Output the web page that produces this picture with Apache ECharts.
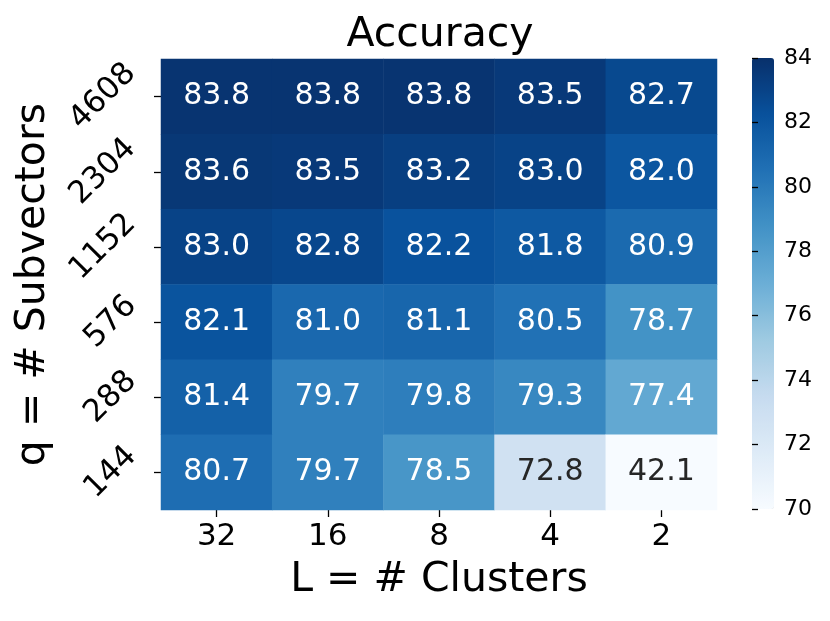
<!DOCTYPE html>
<html>
<head>
<meta charset="utf-8">
<script src="https://cdn.jsdelivr.net/npm/echarts@6/dist/echarts.min.js"></script>
<style>html,body{margin:0;padding:0;background:#fff}#c{width:830px;height:621px}</style>
</head>
<body>
<div id="c"></div>
<script>
var xLabels = ['32', '16', '8', '4', '2'];
var yLabels = ['4608', '2304', '1152', '576', '288', '144'];
var row4608 = [83.8, 83.8, 83.8, 83.5, 82.7];
var row2304 = [83.6, 83.5, 83.2, 83.0, 82.0];
var row1152 = [83.0, 82.8, 82.2, 81.8, 80.9];
var row576  = [82.1, 81.0, 81.1, 80.5, 78.7];
var row288  = [81.4, 79.7, 79.8, 79.3, 77.4];
var row144  = [80.7, 79.7, 78.5, 72.8, 42.1];
var rows = [row4608, row2304, row1152, row576, row288, row144];
var vmin = 70, vmax = 84;

var FONT = 'DejaVu Sans';
var data = [];
rows.forEach(function (r, yi) {
  r.forEach(function (v, xi) {
    var c = Math.max(vmin, Math.min(vmax, v));
    data.push({
      value: [xi, yi, v, c],
      label: { color: c < 74.5 ? '#262626' : '#ffffff' }
    });
  });
});

var chart = echarts.init(document.getElementById('c'), null, { renderer: 'canvas' });
chart.setOption({
  animation: false,
  backgroundColor: '#ffffff',
  textStyle: { fontFamily: FONT },
  title: {
    text: 'Accuracy', left: 435, top: 10, textAlign: 'center',
    textStyle: { fontFamily: FONT, fontSize: 41, fontWeight: 'normal', color: '#000' }
  },
  grid: [
    { left: 161, top: 59, width: 556, height: 451 },
    { left: 752, top: 58, width: 22, height: 451 }
  ],
  xAxis: [
    {
      type: 'category', data: xLabels, gridIndex: 0,
      name: 'L = # Clusters', nameLocation: 'middle', nameGap: 50,
      nameTextStyle: { fontFamily: FONT, fontSize: 41, color: '#000' },
      axisLine: { show: false },
      axisTick: { show: true, alignWithLabel: true, length: 7, lineStyle: { color: '#000', width: 1.3 } },
      axisLabel: { fontFamily: FONT, fontSize: 31, color: '#000', margin: 11 },
      splitLine: { show: false }
    },
    { type: 'value', gridIndex: 1, show: false, min: 0, max: 1 }
  ],
  yAxis: [
    {
      type: 'category', data: yLabels, gridIndex: 0, inverse: true,
      name: 'q = # Subvectors', nameLocation: 'middle', nameGap: 98, nameRotate: 90,
      nameTextStyle: { fontFamily: FONT, fontSize: 41, color: '#000' },
      axisLine: { show: false },
      axisTick: { show: true, alignWithLabel: true, length: 7, lineStyle: { color: '#000', width: 1.3 } },
      axisLabel: {
        fontFamily: FONT, fontSize: 31, color: '#000', margin: 58, rotate: 45,
        align: 'center', verticalAlign: 'middle',
        formatter: function (v) { return v.length < 4 ? '{s|' + v + '}' : '{l|' + v + '}'; },
        rich: {
          l: { fontFamily: FONT, fontSize: 31, color: '#000' },
          s: { fontFamily: FONT, fontSize: 31, color: '#000', padding: [11, 0, 0, 11] }
        }
      },
      splitLine: { show: false }
    },
    {
      type: 'value', gridIndex: 1, position: 'right', min: vmin, max: vmax, interval: 2, z: 20,
      axisLine: { show: false },
      axisTick: { show: true, inside: false, length: 6, lineStyle: { color: '#000', width: 1.3 } },
      axisLabel: { fontFamily: FONT, fontSize: 22, color: '#000', margin: 10 },
      splitLine: { show: false }
    }
  ],
  visualMap: {
    type: 'continuous', min: vmin, max: vmax, dimension: 3, seriesIndex: 0,
    calculable: false, left: 752, top: 58, itemWidth: 22, itemHeight: 451, padding: 0,
    text: null, showLabel: false, z: 1,
    inRange: { color: ['#f7fbff', '#deebf7', '#c6dbef', '#9ecae1', '#6baed6', '#4292c6', '#2171b5', '#08519c', '#08306b'] }
  },
  series: [{
    type: 'heatmap', xAxisIndex: 0, yAxisIndex: 0, data: data,
    label: {
      show: true, fontFamily: FONT, fontSize: 30,
      formatter: function (p) { return p.value[2].toFixed(1); }
    },
    itemStyle: { borderWidth: 0 },
    emphasis: { disabled: true }
  }]
});
</script>
</body>
</html>
